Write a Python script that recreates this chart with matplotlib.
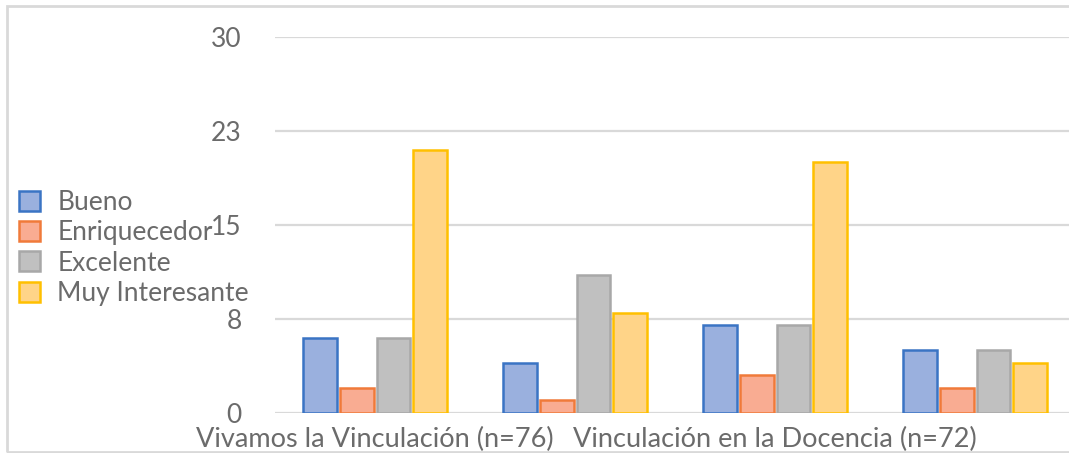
import matplotlib
matplotlib.use("Agg")
import matplotlib.pyplot as plt
from matplotlib.patches import Rectangle, Patch
import numpy as np

categories = ["Vivamos la Vinculación (n=76)", "", "Vinculación en la Docencia (n=72)", ""]
series_names = ["Bueno", "Enriquecedor", "Excelente", "Muy Interesante"]
bueno = [6, 4, 7, 5]
enriquecedor = [2, 1, 3, 2]
excelente = [6, 11, 7, 5]
muy_interesante = [21, 8, 20, 4]
ytick_values = [0, 7.5, 15, 22.5, 30]
ytick_labels = ["0", "8", "15", "23", "30"]

fills = ["#9AB0DE", "#F9AC92", "#C0C0C0", "#FFD488"]
edges = ["#3A74C4", "#F07A3A", "#A8A8A8", "#FFC000"]

plt.rcParams['font.family'] = ['Lato', 'DejaVu Sans']
text_color = "#6B6B6B"

W, H = 1069, 453
fig = plt.figure(figsize=(W / 100, H / 100), dpi=100)
fig.patch.set_facecolor("white")

# chart border
fig.patches.append(Rectangle((7 / W, 1.5 / H), 1.2, (452 - 6) / H,
                             transform=fig.transFigure, fill=False,
                             edgecolor="#D9D9D9", linewidth=2, zorder=0))

ax = fig.add_axes([275 / W, (H - 413) / H, (W - 275) / W, (413 - 37) / H])
ax.set_facecolor("none")

x = np.arange(len(categories))
step = 0.183
width = 0.168
data = [bueno, enriquecedor, excelente, muy_interesante]
for i, (vals, fc, ec, name) in enumerate(zip(data, fills, edges, series_names)):
    ax.bar(x + (i - 1.5) * step, vals, width=width, color=fc, edgecolor=ec,
           linewidth=1.8, label=name, zorder=3)

ax.set_xlim(-0.5, -0.5 + (W - 275) / 200)
ax.set_ylim(0, 30)
ax.set_yticks(ytick_values)
ax.set_yticklabels(ytick_labels)
ax.set_xticks(x)
ax.set_xticklabels(categories)
ax.tick_params(axis='y', length=0, pad=24, labelsize=19, labelcolor=text_color)
ax.tick_params(axis='x', length=0, pad=10, labelsize=19.5, labelcolor=text_color)
ax.grid(axis='y', color="#D9D9D9", linewidth=1.6, zorder=0)
for s in ax.spines.values():
    s.set_visible(False)

handles = [Patch(facecolor=fc, edgecolor=ec, linewidth=1.8) for fc, ec in zip(fills, edges)]
leg = fig.legend(handles, series_names, loc='upper left',
                 bbox_to_anchor=(19 / W, 1 - 190 / H), frameon=False,
                 fontsize=19, handlelength=0.8, handleheight=0.8,
                 handletextpad=0.65, labelspacing=0.2, borderaxespad=0,
                 borderpad=0)
for t in leg.get_texts():
    t.set_color(text_color)

fig.savefig("out.png", dpi=100, facecolor="white")
